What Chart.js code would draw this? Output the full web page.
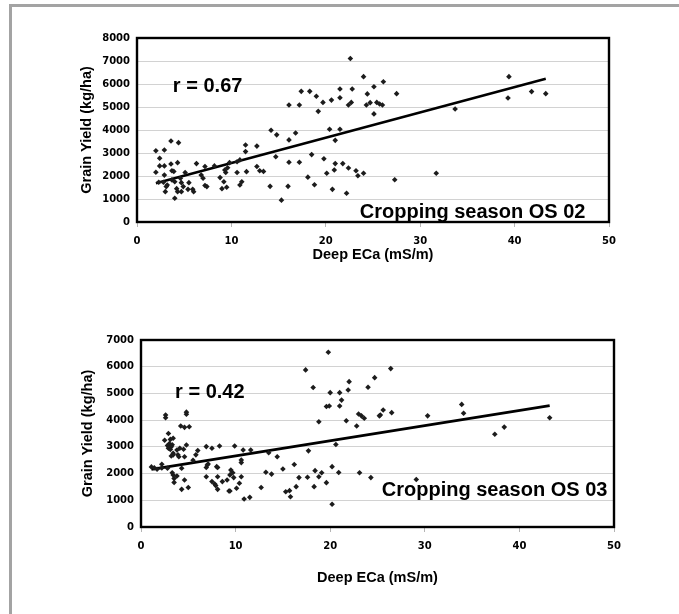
<!DOCTYPE html>
<html>
<head>
<meta charset="utf-8">
<script src="https://cdn.jsdelivr.net/npm/chart.js@4.4.0/dist/chart.umd.min.js"></script>
<style>
  body { margin: 0; background: #fff; }
  #page { position: relative; width: 679px; height: 614px; overflow: hidden; background: #fff; }
  #frame { position: absolute; left: 9px; top: 4px; right: -10px; bottom: -10px;
           border-top: 3px solid #a3a3a3; border-left: 3px solid #a3a3a3; }
  .box { position: absolute; left: 0; width: 679px; }
</style>
</head>
<body>
<div id="page">
  <div id="frame"></div>
  <div class="box" style="top:0;height:300px"><canvas id="os02" width="679" height="300"></canvas></div>
  <div class="box" style="top:300px;height:314px"><canvas id="os03" width="679" height="314"></canvas></div>
</div>
<script>
// Season OS 02: deep ECa (mS/m) and grain yield (kg/ha)
const ecaOS02 = [
  2.0, 2.9, 3.6, 4.4, 2.4, 2.4, 2.0, 2.9, 3.6, 4.3, 3.7, 3.9, 2.9, 2.8, 2.3, 3.1, 3.0, 3.7, 4.0, 4.0,
  4.2, 4.3, 4.7, 5.1, 4.6, 4.7, 4.9, 5.5, 5.4, 5.9, 6.0, 6.3, 6.8, 7.2, 7.0, 7.2, 7.4, 8.2, 8.8, 9.3,
  9.4, 9.6, 9.8, 9.0, 9.5, 9.2, 10.6, 10.9, 10.9, 11.1, 10.6, 11.6, 11.5, 11.5, 12.7, 12.7, 13.0, 13.4, 3.2,
  14.1, 14.2, 14.8, 14.7, 15.3, 16.0, 16.1, 16.1, 16.1, 16.8, 17.2, 17.2, 17.4, 18.1, 18.3, 18.5, 18.8, 19.0,
  19.2, 19.7, 19.8, 20.1, 20.4, 20.6, 20.7, 21.0, 21.0, 20.9, 21.5, 21.5, 21.5, 21.8, 22.2, 22.4, 22.6, 22.8,
  22.7, 22.4, 23.2, 23.4, 24.0, 24.0, 25.1, 26.1, 24.4, 24.3, 24.7, 25.4, 25.7, 26.0, 25.1, 27.5, 27.3, 31.7,
  33.7, 39.4, 39.3, 41.8, 43.3
];
const yieldOS02 = [
  3100, 3130, 3520, 3450, 2770, 2440, 2160, 2440, 2520, 2580, 2230, 2200, 2040, 1730, 1730, 1540, 1320, 1830, 1750, 1030,
  1450, 1320, 1320, 2150, 1900, 1710, 1540, 1710, 1420, 1420, 1320, 2540, 2040, 2410, 1900, 1590, 1540, 2440, 1930, 2260,
  2150, 2360, 2580, 1450, 1510, 1750, 2620, 2700, 1610, 1750, 2150, 2190, 3350, 3060, 3300, 2410, 2230, 2200, 1610,
  1550, 3990, 3790, 2840, 950, 1550, 3570, 5090, 2600, 3870, 5090, 2600, 5680, 1950, 5680, 2930, 1620, 5470,
  4810, 5200, 2750, 2120, 4030, 5300, 1420, 3550, 2540, 2260, 5400, 5780, 4030, 2540, 1250, 2350, 7110, 5780,
  5200, 5090, 2230, 2010, 2120, 6320, 5880, 6100, 5570, 5090, 5190, 5200, 5130, 5090, 4700, 5580, 1840, 2120,
  4910, 6320, 5390, 5670, 5580
];
const trendX02 = [2.0, 43.3];
const trendY02 = [1683, 6230];

// Season OS 03
const ecaOS03 = [
  1.1, 1.4, 1.7, 2.2, 2.2, 2.6, 2.6, 2.9, 2.5, 3.1, 3.4, 2.8, 3.0, 3.2, 2.9, 3.3, 3.1, 3.4, 3.2, 2.8,
  3.4, 3.5, 3.8, 3.5, 3.3, 4.3, 4.8, 4.8, 4.2, 4.6, 5.1, 4.8, 4.6, 4.1, 4.0, 4.3, 4.6, 5.0, 5.5, 5.8,
  6.0, 3.8, 4.5, 3.4, 3.9,
  6.9, 6.9, 6.9, 7.5, 7.0, 7.5, 7.8, 8.1, 8.0, 8.1, 8.3, 8.6, 9.3, 9.4, 9.1, 9.4, 9.7, 9.8, 9.5, 9.9,
  10.1, 10.4, 10.6, 10.6, 10.6, 10.8, 10.9, 11.5, 11.6, 12.7, 7.1, 8.1, 7.9,
  13.2, 13.8, 13.5, 14.4, 15.0, 15.3, 15.7, 15.8, 16.2, 16.4, 16.7, 17.4, 17.6, 17.7, 18.2, 18.4, 18.3, 18.8,
  18.8, 19.1, 19.8, 19.6, 19.6, 19.9, 20.0, 20.2, 20.2, 20.6, 20.9, 21.0, 21.0, 21.2, 21.9, 22.0, 21.7, 23.0,
  23.3, 23.6, 22.8, 23.1, 24.0, 24.7, 25.2, 25.3, 25.6, 26.4, 26.5, 24.3,
  29.1, 30.3, 33.9, 34.1, 37.4, 38.4, 43.2
];
const yieldOS03 = [
  2250, 2220, 2160, 2350, 2210, 4190, 4090, 3500, 3250, 3280, 3320, 3050, 3120, 3000, 2950, 3080, 2900, 2760, 2660, 2200,
  1950, 1820, 1910, 1670, 2030, 1410, 4220, 4300, 3780, 3730, 3750, 3070, 2630, 2950, 2630, 2200, 1760, 1480, 2500, 2700,
  2860, 2880, 2910, 2700, 2700,
  3010, 2230, 1880, 2950, 2320, 1700, 1610, 1410, 2260, 1880, 3030, 1700, 1350, 1350, 1760, 1950, 2030, 1850, 2130, 3030,
  1450, 1640, 1880, 2410, 2510, 2880, 1050, 1110, 2880, 1480, 2360, 2230, 1550,
  2050, 1980, 2780, 2630, 2170, 1320, 1360, 1130, 2340, 1510, 1850, 5880, 1860, 2850, 5220, 2110, 1510, 3940,
  1880, 2030, 6540, 1660, 4510, 4530, 5030, 850, 2260, 3090, 2040, 5030, 4530, 4750, 5130, 5440, 3980, 4230,
  4160, 4070, 3780, 2030, 5230, 5590, 4160, 4190, 4380, 5930, 4280, 1850,
  1780, 4160, 4590, 4260, 3470, 3740, 4090
];
const trendX03 = [1.1, 43.2];
const trendY03 = [2158, 4543];

const xTicks = [0, 10, 20, 30, 40, 50];

const tickFont = { family: "'DejaVu Sans'", size: 10, weight: 'bold' };
const titleFont = { family: "'Liberation Sans', Arial", size: 14.5, weight: 'bold' };

// black box round the plot area plus the r value and season captions
const plotBox = {
  id: 'plotBox',
  afterDatasetsDraw(chart, args, opts) {
    const { ctx, chartArea: a, scales } = chart;
    ctx.save();
    ctx.fillStyle = '#000';
    ctx.font = "bold 20px 'Liberation Sans', Arial";
    ctx.textBaseline = 'alphabetic';
    for (const n of opts.notes || []) {
      ctx.textAlign = n.align;
      ctx.fillText(n.text, scales.x.getPixelForValue(n.x), scales.y.getPixelForValue(n.y));
    }
    ctx.lineWidth = 2.4;
    ctx.strokeStyle = '#000';
    ctx.strokeRect(a.left, a.top, a.right - a.left, a.bottom - a.top);
    ctx.restore();
  }
};

function makeChart(id, xs, ys, tx, ty, yMax, pad, yWidth, xHeight, notes) {
  const pts = xs.map((x, i) => ({ x: x, y: ys[i] }));
  const trend = tx.map((x, i) => ({ x: x, y: ty[i] }));
  return new Chart(document.getElementById(id), {
    type: 'scatter',
    data: {
      datasets: [
        {
          data: pts,
          pointStyle: 'rectRot',
          pointRadius: 2.8,
          pointBackgroundColor: '#1c1c1c',
          pointBorderColor: '#1c1c1c',
          pointBorderWidth: 0
        },
        {
          data: trend,
          showLine: true,
          borderColor: '#000',
          borderWidth: 2.6,
          pointRadius: 0
        }
      ]
    },
    options: {
      responsive: false,
      animation: false,
      devicePixelRatio: 1,
      layout: { padding: pad },
      plugins: {
        legend: { display: false },
        tooltip: { enabled: false },
        plotBox: { notes: notes }
      },
      scales: {
        x: {
          type: 'linear',
          min: 0,
          max: 50,
          afterBuildTicks: (s) => { s.ticks = xTicks.map(v => ({ value: v })); },
          afterFit: (s) => { s.height = xHeight; },
          ticks: { font: tickFont, color: '#000', padding: 8, maxRotation: 0, callback: (v) => String(v) },
          grid: { drawOnChartArea: false, drawTicks: true, tickLength: 5, tickColor: '#b5b5b5' },
          border: { display: false },
          title: { display: true, text: 'Deep ECa (mS/m)', font: titleFont, color: '#000', padding: 0 }
        },
        y: {
          min: 0,
          max: yMax,
          afterFit: (s) => { s.width = yWidth; },
          ticks: { stepSize: 1000, font: tickFont, color: '#000', padding: 7, callback: (v) => String(v) },
          grid: { color: '#d2d2d2', lineWidth: 1, drawTicks: false },
          border: { display: false },
          title: { display: true, text: 'Grain Yield (kg/ha)', font: titleFont, color: '#000', padding: 0 }
        }
      }
    },
    plugins: [plotBox]
  });
}

makeChart('os02', ecaOS02, yieldOS02, trendX02, trendY02, 8000,
  { left: 78.6, top: 38, right: 70, bottom: 36.6 }, 58.4, 41.4,
  [
    { text: 'r = 0.67', x: 3.8, y: 5665, align: 'left' },
    { text: 'Cropping season OS 02', x: 47.5, y: 160, align: 'right' }
  ]);

makeChart('os03', ecaOS03, yieldOS03, trendX03, trendY03, 7000,
  { left: 79.1, top: 40, right: 65, bottom: 27.6 }, 61.9, 59.4,
  [
    { text: 'r = 0.42', x: 3.6, y: 4818, align: 'left' },
    { text: 'Cropping season OS 03', x: 49.3, y: 1160, align: 'right' }
  ]);
</script>
</body>
</html>
